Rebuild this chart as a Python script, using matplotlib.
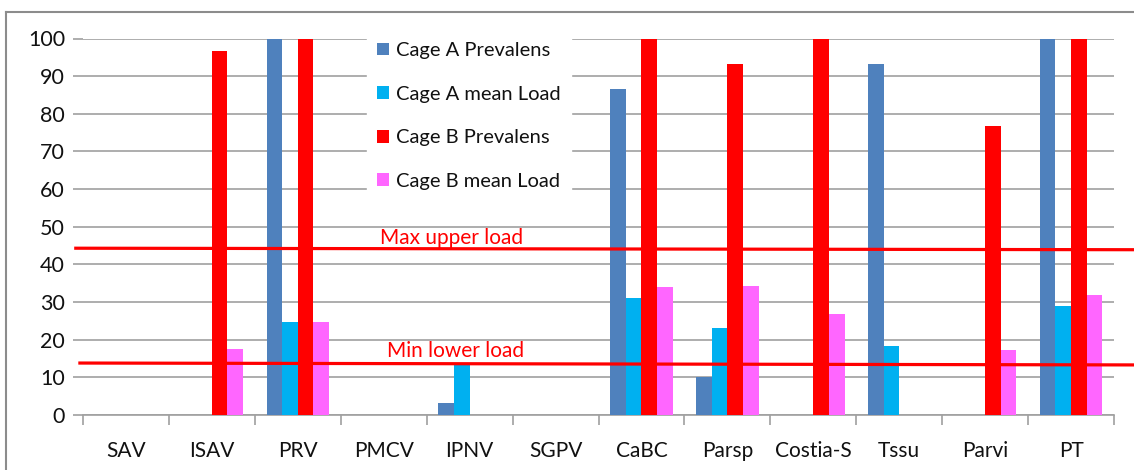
import numpy as np
import matplotlib
matplotlib.use("Agg")
import matplotlib.pyplot as plt
from matplotlib.lines import Line2D
from matplotlib.patches import Patch
import matplotlib.transforms as mtransforms

plt.rcParams['font.family'] = ['Lato', 'DejaVu Sans']

categories = ["SAV", "ISAV", "PRV", "PMCV", "IPNV", "SGPV",
              "CaBC", "Parsp", "Costia-S", "Tssu", "Parvi", "PT"]

cage_a_prev = [0, 0, 100, 0, 3.3, 0, 86.7, 10, 0, 93.3, 0, 100]
cage_a_load = [0, 0, 24.8, 0, 13.3, 0, 31, 23, 0, 18.2, 0, 29]
cage_b_prev = [0, 96.7, 100, 0, 0, 0, 100, 93.3, 100, 0, 76.7, 100]
cage_b_load = [0, 17.4, 24.8, 0, 0, 0, 33.9, 34.3, 26.7, 0, 17.2, 31.8]

series_labels = ["Cage A Prevalens", "Cage A mean Load",
                 "Cage B Prevalens", "Cage B mean Load"]
colors = ["#4F81BD", "#00B0F0", "#FF0000", "#FF66FF"]

# reference lines (left end, right end)
max_upper = (44.3, 43.9)
min_lower = (13.8, 13.3)

fig = plt.figure(figsize=(11.34, 4.70), dpi=100)
ax = fig.add_axes([83 / 1134, 55 / 470, 1031 / 1134, 376.5 / 470])

x = np.arange(len(categories))
w = 1 / 5.5
for k, (vals, c, lab) in enumerate(zip([cage_a_prev, cage_a_load, cage_b_prev, cage_b_load],
                                       colors, series_labels)):
    ax.bar(x + (k - 1.5) * w, vals, width=w, color=c, label=lab, zorder=3)

ax.set_xlim(-0.5, len(categories) - 0.5)
ax.set_ylim(0, 100)
ax.set_yticks(range(0, 101, 10))
ax.yaxis.grid(True, color="#a0a0a0", linewidth=1.2, zorder=0)
ax.set_axisbelow(True)
for s in ["top", "right", "left"]:
    ax.spines[s].set_visible(False)
ax.spines["bottom"].set_color("#a0a0a0")
ax.spines["bottom"].set_linewidth(1.2)

ax.set_xticks(x)
ax.set_xticklabels(categories, fontsize=15, color="#111111")
ax.set_xticks(np.arange(-0.5, len(categories)), minor=True)
ax.tick_params(axis="x", which="major", length=0, pad=19)
ax.tick_params(axis="x", which="minor", length=7, width=1.2, color="#a0a0a0")
ax.tick_params(axis="y", length=7, width=1.2, color="#a0a0a0", labelsize=15.5,
               labelcolor="#111111", pad=6)

# red load lines, running past the plot edge
trans = mtransforms.blended_transform_factory(ax.transAxes, ax.transData)
ax.plot([-0.007, 1.02], max_upper, color="red", lw=2.3, transform=trans,
        clip_on=False, zorder=5)
ax.plot([-0.003, 1.02], min_lower, color="red", lw=2.3, transform=trans,
        clip_on=False, zorder=5)
fig.text(380 / 1134, 1 - 238 / 470, "Max upper load", color="red", fontsize=15,
         va="center", ha="left")
fig.text(387 / 1134, 1 - 351 / 470, "Min lower load", color="red", fontsize=15,
         va="center", ha="left")

handles = [Patch(facecolor=c) for c in colors]
leg = ax.legend(handles, series_labels, loc="upper left",
                bbox_to_anchor=(357 / 1134, 1 - 22 / 470), bbox_transform=fig.transFigure,
                frameon=True, fontsize=14.5, handlelength=0.6, handleheight=0.6,
                handletextpad=0.35, labelspacing=1.32, borderpad=0.5, fancybox=False)
leg.get_frame().set_facecolor("white")
leg.get_frame().set_edgecolor("white")
leg.get_frame().set_alpha(1)
leg.set_zorder(4)
for t in leg.get_texts():
    t.set_color("#111111")

# outer chart frame
fc = "#8c8c8c"
fig.add_artist(Line2D([6 / 1134, 1.0], [1 - 12 / 470, 1 - 12 / 470], color=fc,
                      lw=1.5, transform=fig.transFigure))
fig.add_artist(Line2D([6 / 1134, 6 / 1134], [0, 1 - 12 / 470], color=fc,
                      lw=1.5, transform=fig.transFigure))

fig.savefig("out.png", dpi=100)
